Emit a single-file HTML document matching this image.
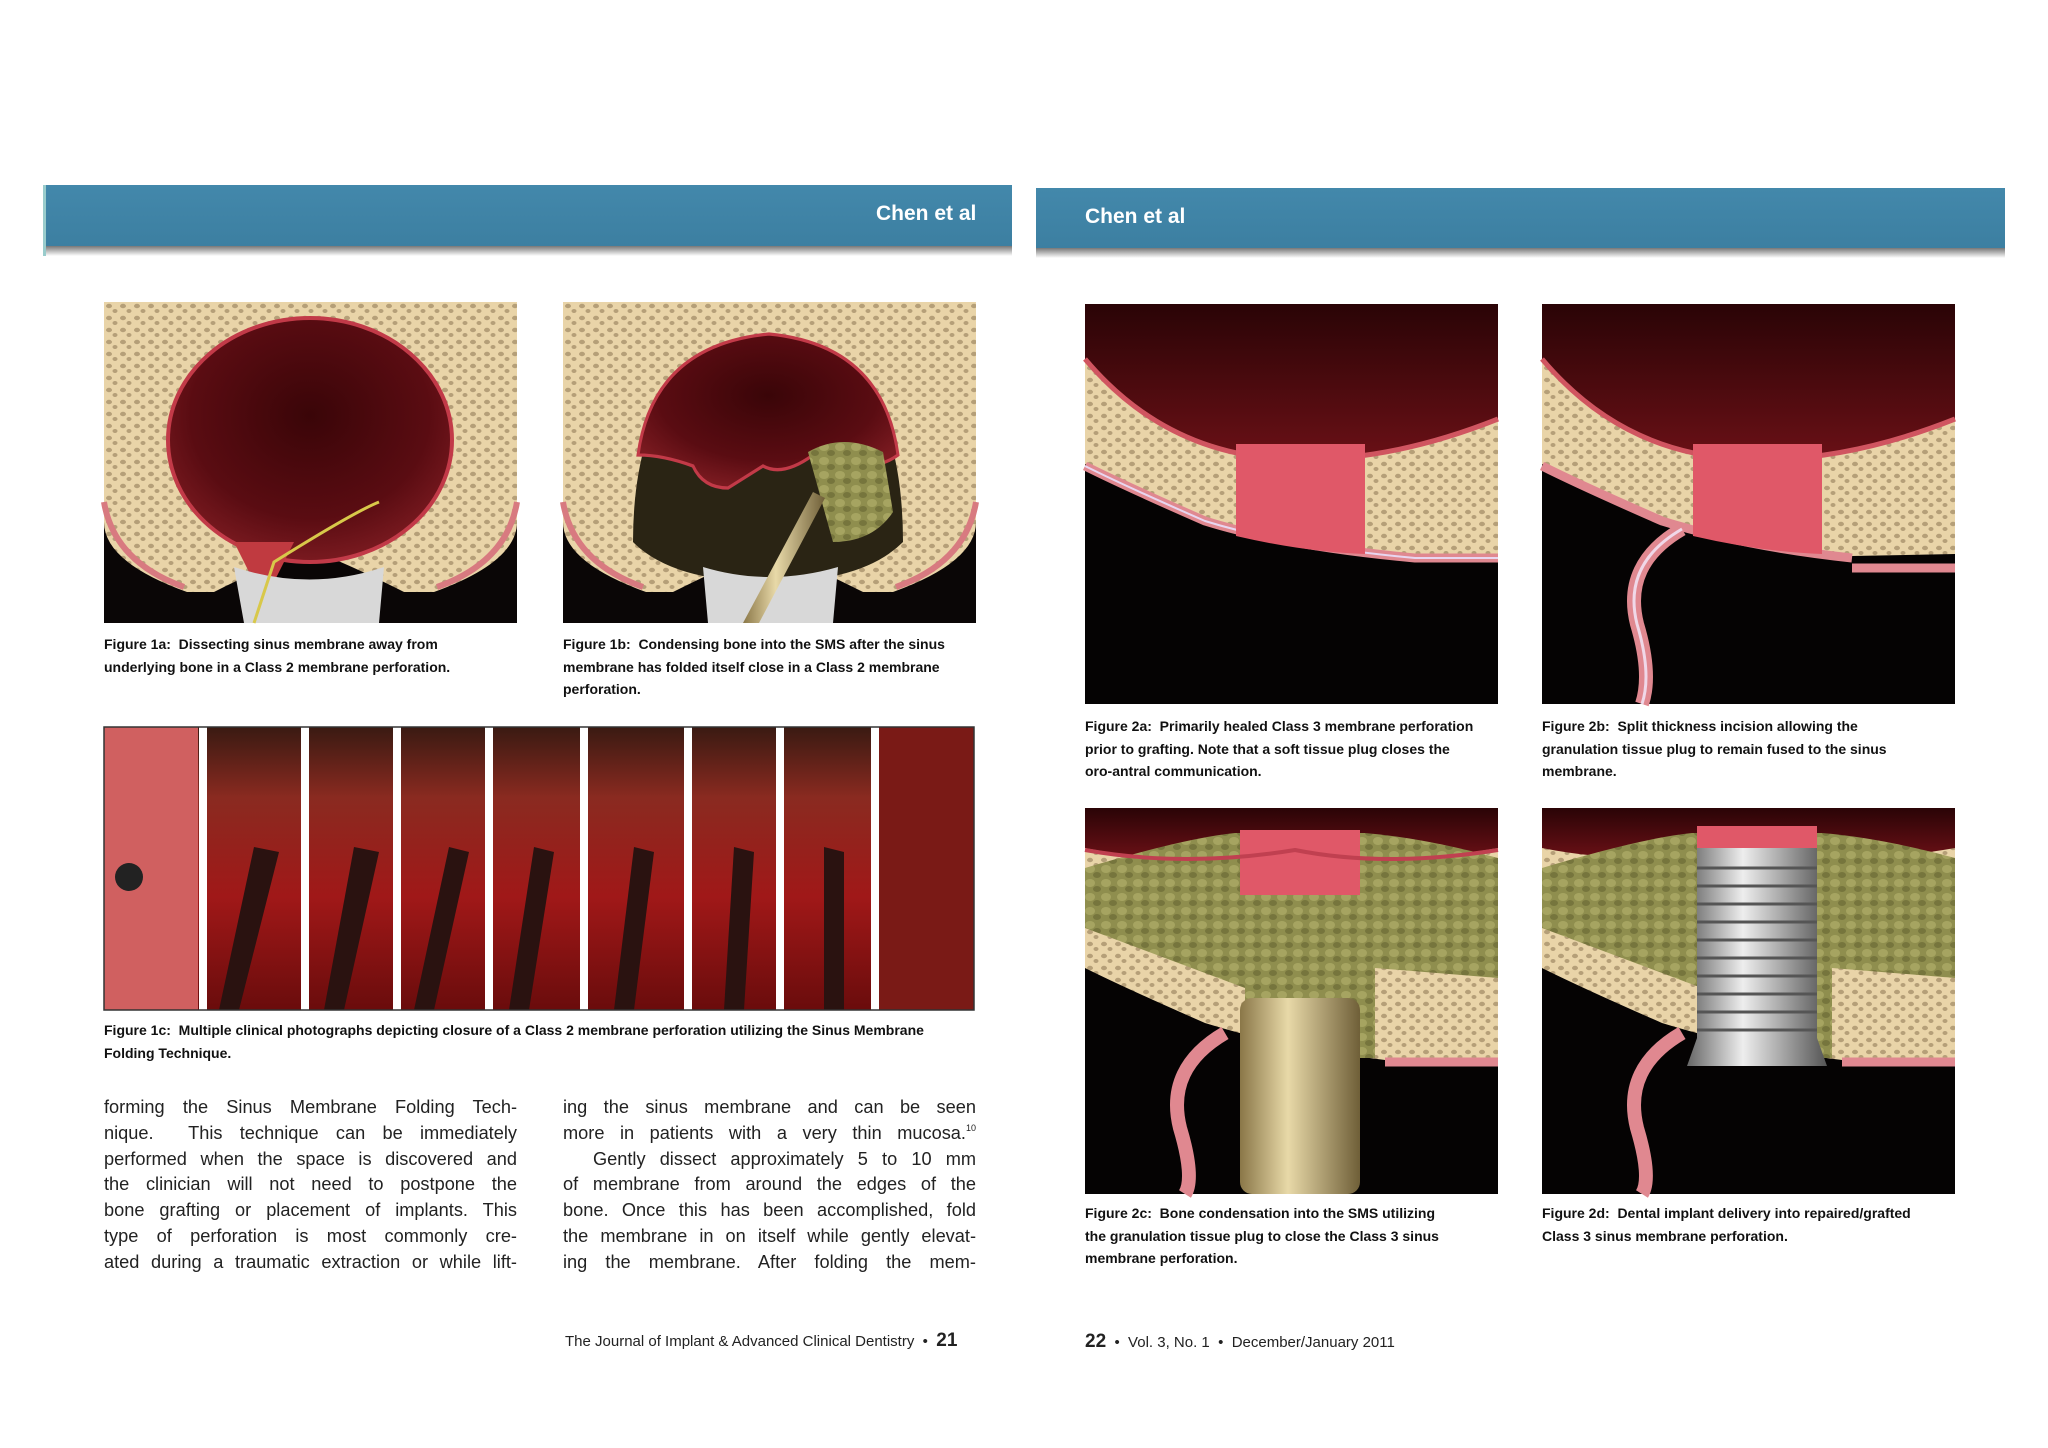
<!DOCTYPE html>
<html><head><meta charset="utf-8"><style>
body{margin:0;width:2048px;height:1448px;background:#fff;position:relative;overflow:hidden;font-family:"Liberation Sans",sans-serif;}
.abs{position:absolute}
.cap{position:absolute;font-size:14px;line-height:22.5px;color:#111;white-space:nowrap;font-weight:bold;}
.body{position:absolute;font-size:18.2px;line-height:25.8px;color:#222;width:413px;}
.body div{text-align:justify;text-align-last:justify;white-space:nowrap;height:25.8px;}
.body sup{font-size:9px;line-height:0;vertical-align:8px}
.hdr{position:absolute;color:#fff;font-weight:bold;font-size:21px;}
</style></head><body>
<svg class="abs" style="left:0;top:0" width="2048" height="1448" viewBox="0 0 2048 1448">
<defs>
<radialGradient id="sin" cx="0.5" cy="0.4" r="0.6"><stop offset="0" stop-color="#3a0508"/><stop offset="0.7" stop-color="#5a0c12"/><stop offset="1" stop-color="#7a1a20"/></radialGradient>
<linearGradient id="sin2" x1="0" y1="0" x2="0" y2="1"><stop offset="0" stop-color="#2a0406"/><stop offset="1" stop-color="#6a1016"/></linearGradient>
<linearGradient id="hd" x1="0" y1="0" x2="0" y2="1"><stop offset="0" stop-color="#4388ab"/><stop offset="1" stop-color="#3c7fa1"/></linearGradient>
<linearGradient id="sh" x1="0" y1="0" x2="0" y2="1"><stop offset="0" stop-color="#777"/><stop offset="1" stop-color="#fff"/></linearGradient>
<linearGradient id="gold" x1="0" y1="0" x2="1" y2="0"><stop offset="0" stop-color="#8a7748"/><stop offset="0.4" stop-color="#e8d9a8"/><stop offset="1" stop-color="#6f5f38"/></linearGradient>
<linearGradient id="silv" x1="0" y1="0" x2="1" y2="0"><stop offset="0" stop-color="#666"/><stop offset="0.4" stop-color="#eee"/><stop offset="1" stop-color="#555"/></linearGradient>
<linearGradient id="photo" x1="0" y1="0" x2="0" y2="1"><stop offset="0" stop-color="#3a1a12"/><stop offset="0.25" stop-color="#8a2a20"/><stop offset="0.6" stop-color="#a01818"/><stop offset="1" stop-color="#6a0c0c"/></linearGradient>
<pattern id="dots" width="14" height="12" patternUnits="userSpaceOnUse"><rect width="14" height="12" fill="#e9d4a8"/><ellipse cx="5" cy="4" rx="3" ry="2.2" fill="#b59f78"/><ellipse cx="11" cy="9" rx="2.5" ry="2" fill="#b59f78"/></pattern>
<pattern id="graft" width="16" height="14" patternUnits="userSpaceOnUse"><rect width="16" height="14" fill="#8f8e4e"/><ellipse cx="5" cy="5" rx="5" ry="4" fill="#a6a461"/><ellipse cx="12" cy="11" rx="4" ry="3" fill="#76753d"/></pattern>
</defs>
<rect x="43" y="185" width="969" height="61" fill="url(#hd)"/>
<rect x="43" y="246" width="969" height="10" fill="url(#sh)"/>
<rect x="43" y="185" width="3" height="71" fill="#9cc"/>
<rect x="1036" y="188" width="969" height="60" fill="url(#hd)"/>
<rect x="1036" y="248" width="969" height="10" fill="url(#sh)"/>

<g transform="translate(104,302)">
<rect width="413" height="321" fill="#0a0606"/>
<path d="M0,0 H413 V220 Q413,260 330,290 L300,290 Q220,250 206,250 Q190,250 110,290 L83,290 Q0,260 0,220 Z" fill="url(#dots)"/>
<path d="M0,200 Q10,260 80,285" stroke="#d87a80" stroke-width="6" fill="none"/>
<path d="M413,200 Q403,260 333,285" stroke="#d87a80" stroke-width="6" fill="none"/>
<ellipse cx="206" cy="138" rx="142" ry="122" fill="url(#sin)" stroke="#c23a48" stroke-width="4"/>
<path d="M130,240 L160,300 L190,240 Z" fill="#c03a40"/>
<path d="M130,265 Q206,290 280,265 L275,321 H140 Z" fill="#d8d8d8"/>
<path d="M150,321 L170,260 Q250,210 275,200" stroke="#d8c84a" stroke-width="3" fill="none"/>
</g>
<g transform="translate(563,302)">
<rect width="413" height="321" fill="#0a0606"/>
<path d="M0,0 H413 V220 Q413,260 330,290 L300,290 Q220,250 206,250 Q190,250 110,290 L83,290 Q0,260 0,220 Z" fill="url(#dots)"/>
<path d="M0,200 Q10,260 80,285" stroke="#d87a80" stroke-width="6" fill="none"/>
<path d="M413,200 Q403,260 333,285" stroke="#d87a80" stroke-width="6" fill="none"/>
<path d="M70,240 Q70,140 110,80 Q206,-10 302,80 Q340,140 340,240 Q300,280 206,280 Q110,280 70,240Z" fill="#2a2414"/>
<path d="M75,130 Q90,30 206,20 Q320,30 335,130 Q320,140 300,140 L290,150 L250,130 Q220,150 200,140 L165,160 Q140,160 130,140 Q100,130 75,130Z" fill="url(#sin)" stroke="#c23a48" stroke-width="3" transform="translate(0,10) scale(1,1.1)"/>
<path d="M245,150 Q280,130 320,150 L330,210 Q310,240 270,240 Z" fill="url(#graft)"/>
<path d="M140,265 Q206,285 275,265 L270,321 H145 Z" fill="#d8d8d8"/>
<path d="M180,321 L250,190 L262,196 L196,321 Z" fill="url(#gold)"/>
</g>

<g transform="translate(104,727)">
<rect width="870" height="283" fill="url(#photo)"/>
<rect width="94" height="283" fill="#d06060"/>
<circle cx="25" cy="150" r="14" fill="#222"/>
<rect x="775" width="95" height="283" fill="#7a1a16"/>
<g fill="#fff">
<rect x="95" width="8" height="283"/><rect x="197" width="8" height="283"/><rect x="289" width="8" height="283"/><rect x="381" width="8" height="283"/><rect x="476" width="8" height="283"/><rect x="580" width="8" height="283"/><rect x="672" width="8" height="283"/><rect x="767" width="8" height="283"/>
</g>
<g fill="#2a1210">
<path d="M150,120 L175,125 L135,283 L115,283Z"/><path d="M250,120 L275,125 L240,283 L220,283Z"/><path d="M345,120 L365,125 L330,283 L310,283Z"/><path d="M430,120 L450,125 L425,283 L405,283Z"/><path d="M530,120 L550,125 L530,283 L510,283Z"/><path d="M630,120 L650,125 L640,283 L620,283Z"/><path d="M720,120 L740,125 L740,283 L720,283Z"/>
</g>
<rect x="0" y="0" width="870" height="283" fill="none" stroke="#333" stroke-width="1.5"/>
</g>

<g transform="translate(1085,304)">
<rect width="413" height="400" fill="#050303"/>
<path d="M0,0 H413 V250 L330,252 Q200,240 120,215 Q40,180 0,160 Z" fill="url(#dots)"/>
<path d="M0,162 Q40,182 120,217 Q200,242 330,254 L413,254" stroke="#e08890" stroke-width="9" fill="none"/>
<path d="M0,162 Q40,182 120,217 Q200,242 330,254 L413,254" stroke="#e8d6f0" stroke-width="2" fill="none"/>
<path d="M0,0 H413 V115 Q300,160 200,155 Q80,150 0,55 Z" fill="url(#sin2)"/>
<path d="M0,55 Q80,150 200,155 Q300,160 413,115" stroke="#d05560" stroke-width="5" fill="none"/>
<path d="M151,140 H280 V250 Q220,248 151,232 Z" fill="#e05868"/>
</g>
<g transform="translate(1542,304)">
<rect width="413" height="400" fill="#050303"/>
<path d="M0,0 H413 V250 L310,252 Q200,240 120,215 Q40,180 0,160 Z" fill="url(#dots)"/>
<path d="M0,162 Q40,182 120,217 Q200,242 310,254" stroke="#e08890" stroke-width="9" fill="none"/>
<path d="M310,264 H413" stroke="#e08890" stroke-width="9"/>
<path d="M0,0 H413 V115 Q300,160 200,155 Q80,150 0,55 Z" fill="url(#sin2)"/>
<path d="M0,55 Q80,150 200,155 Q300,160 413,115" stroke="#d05560" stroke-width="5" fill="none"/>
<path d="M151,140 H280 V250 Q220,248 151,232 Z" fill="#e05868"/>
<path d="M140,225 Q80,260 95,320 Q110,370 100,400" stroke="#e08890" stroke-width="14" fill="none"/>
<path d="M140,225 Q80,260 95,320 Q110,370 100,400" stroke="#f0d8e8" stroke-width="3" fill="none"/>
</g>
<g transform="translate(1085,808)">
<rect width="413" height="386" fill="#050303"/>
<path d="M0,0 H413 V250 L300,252 Q200,240 120,215 Q40,180 0,160 Z" fill="url(#dots)"/>
<path d="M0,0 H413 V40 Q300,60 210,40 Q100,60 0,40 Z" fill="url(#sin2)"/>
<path d="M0,60 Q100,30 150,25 H280 Q340,30 413,50 V170 L290,160 V250 H160 V180 Q80,150 0,120 Z" fill="url(#graft)"/>
<rect x="155" y="22" width="120" height="65" fill="#e05868"/>
<path d="M0,42 Q100,60 210,42 Q300,60 413,42" stroke="#c04050" stroke-width="4" fill="none"/>
<path d="M300,254 H413" stroke="#e08890" stroke-width="9"/>
<path d="M140,225 Q80,260 95,320 Q110,370 100,386" stroke="#e08890" stroke-width="14" fill="none"/>
<rect x="155" y="190" width="120" height="196" rx="12" fill="url(#gold)"/>
</g>
<g transform="translate(1542,808)">
<rect width="413" height="386" fill="#050303"/>
<path d="M0,0 H413 V250 L300,252 Q200,240 120,215 Q40,180 0,160 Z" fill="url(#dots)"/>
<path d="M0,0 H413 V40 Q300,60 210,40 Q100,60 0,40 Z" fill="url(#sin2)"/>
<path d="M0,60 Q100,30 150,25 H280 Q340,30 413,50 V170 L290,160 V250 H160 V180 Q80,150 0,120 Z" fill="url(#graft)"/>
<rect x="155" y="18" width="120" height="30" fill="#e05868"/>
<path d="M300,254 H413" stroke="#e08890" stroke-width="9"/>
<path d="M140,225 Q80,260 95,320 Q110,370 100,386" stroke="#e08890" stroke-width="14" fill="none"/>
<path d="M155,40 H275 V230 L285,258 H145 L155,230 Z" fill="url(#silv)"/>
<g stroke="#555" stroke-width="3"><path d="M155,60H275M155,78H275M155,96H275M155,114H275M155,132H275M155,150H275M155,168H275M155,186H275M155,204H275M155,222H275"/></g>
</g>
</svg>

<div class="hdr" style="left:876px;top:202px">Chen et al</div>
<div class="hdr" style="left:1085px;top:205px">Chen et al</div>

<div class="cap" style="left:104px;top:633px">Figure 1a: &nbsp;Dissecting sinus membrane away from<br>underlying bone in a Class 2 membrane perforation.</div>
<div class="cap" style="left:563px;top:633px">Figure 1b: &nbsp;Condensing bone into the SMS after the sinus<br>membrane has folded itself close in a Class 2 membrane<br>perforation.</div>
<div class="cap" style="left:104px;top:1019px">Figure 1c: &nbsp;Multiple clinical photographs depicting closure of a Class 2 membrane perforation utilizing the Sinus Membrane<br>Folding Technique.</div>

<div class="body" style="left:104px;top:1095px">
<div>forming the Sinus Membrane Folding Tech-</div>
<div>nique. &nbsp;This technique can be immediately</div>
<div>performed when the space is discovered and</div>
<div>the clinician will not need to postpone the</div>
<div>bone grafting or placement of implants. This</div>
<div>type of perforation is most commonly cre-</div>
<div>ated during a traumatic extraction or while lift-</div>
</div>
<div class="body" style="left:563px;top:1095px">
<div>ing the sinus membrane and can be seen</div>
<div>more in patients with a very thin mucosa.<sup>10</sup></div>
<div style="padding-left:30px">Gently dissect approximately 5 to 10 mm</div>
<div>of membrane from around the edges of the</div>
<div>bone. Once this has been accomplished, fold</div>
<div>the membrane in on itself while gently elevat-</div>
<div>ing the membrane. After folding the mem-</div>
</div>

<div class="abs" style="left:565px;top:1330px;font-size:15px;color:#222;white-space:nowrap">The Journal of Implant &amp; Advanced Clinical Dentistry &nbsp;• &nbsp;<b style="font-size:19px">21</b></div>

<div class="cap" style="left:1085px;top:715px">Figure 2a: &nbsp;Primarily healed Class 3 membrane perforation<br>prior to grafting. Note that a soft tissue plug closes the<br>oro-antral communication.</div>
<div class="cap" style="left:1542px;top:715px">Figure 2b: &nbsp;Split thickness incision allowing the<br>granulation tissue plug to remain fused to the sinus<br>membrane.</div>
<div class="cap" style="left:1085px;top:1202px">Figure 2c: &nbsp;Bone condensation into the SMS utilizing<br>the granulation tissue plug to close the Class 3 sinus<br>membrane perforation.</div>
<div class="cap" style="left:1542px;top:1202px">Figure 2d: &nbsp;Dental implant delivery into repaired/grafted<br>Class 3 sinus membrane perforation.</div>

<div class="abs" style="left:1085px;top:1331px;font-size:15px;color:#222;white-space:nowrap"><b style="font-size:19px">22</b> &nbsp;• &nbsp;Vol. 3, No. 1 &nbsp;• &nbsp;December/January 2011</div>
</body></html>
